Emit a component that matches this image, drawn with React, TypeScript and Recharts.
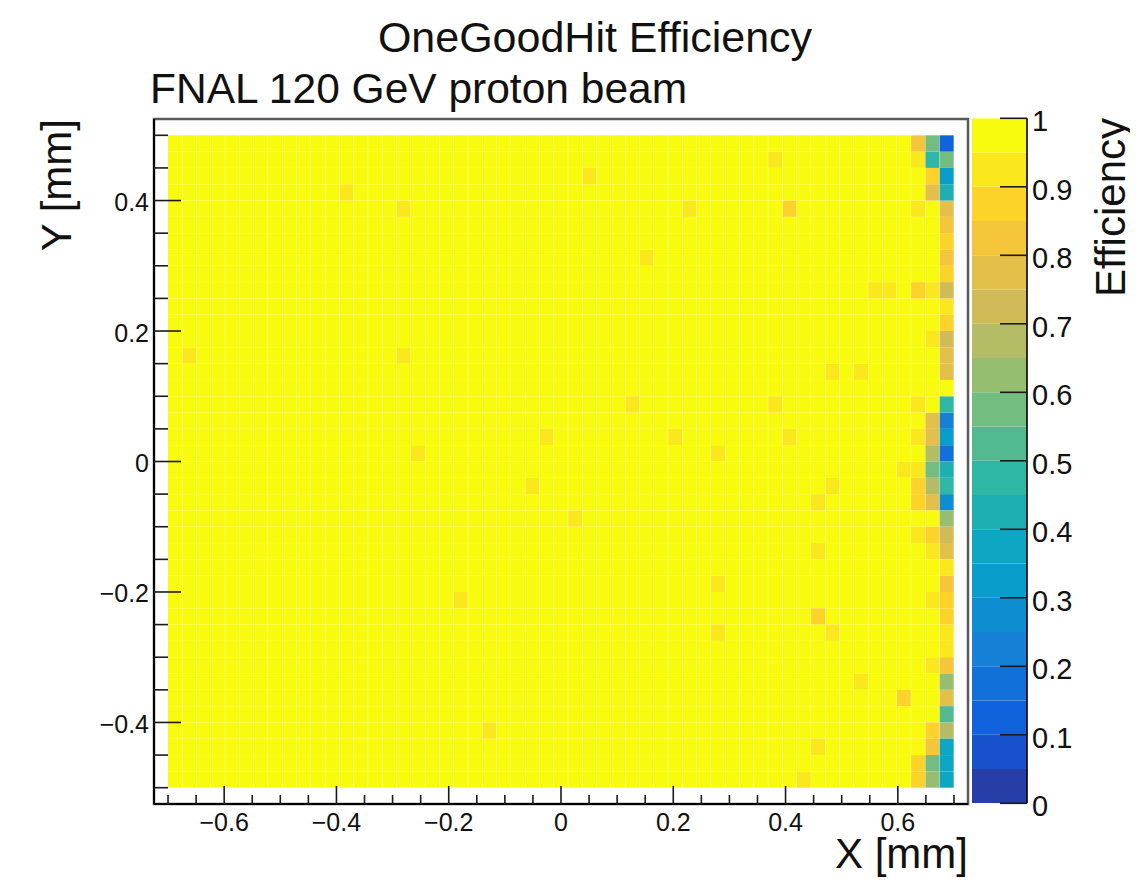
import React from 'react';
import { BarChart, Bar, Cell, XAxis, YAxis, ReferenceArea } from 'recharts';

// ---------- binning ----------
const X_LOW = -0.7;
const X_HIGH = 0.7;
const N_X = 55;
const Y_LOW = -0.5;
const Y_HIGH = 0.5;
const N_Y = 40;
const X_BIN = (X_HIGH - X_LOW) / N_X;
const Y_BIN = (Y_HIGH - Y_LOW) / N_Y;
const xBinCenters = Array.from({ length: N_X }, (_, i) => X_LOW + X_BIN * (i + 0.5));
const yBinLowEdges = Array.from({ length: N_Y }, (_, j) => +(Y_LOW + Y_BIN * j).toFixed(4));

// ---------- axis ticks ----------
const xTicks = [-0.7, -0.65, -0.6, -0.55, -0.5, -0.45, -0.4, -0.35, -0.3, -0.25, -0.2, -0.15, -0.1, -0.05, 0,
  0.05, 0.1, 0.15, 0.2, 0.25, 0.3, 0.35, 0.4, 0.45, 0.5, 0.55, 0.6, 0.65, 0.7];
const xLabelTicks = [-0.6, -0.4, -0.2, 0, 0.2, 0.4, 0.6];
const yTicks = [-0.5, -0.45, -0.4, -0.35, -0.3, -0.25, -0.2, -0.15, -0.1, -0.05, 0,
  0.05, 0.1, 0.15, 0.2, 0.25, 0.3, 0.35, 0.4, 0.45, 0.5];
const yLabelTicks = [-0.4, -0.2, 0, 0.2, 0.4];
const zTicks = [0, 0.1, 0.2, 0.3, 0.4, 0.5, 0.6, 0.7, 0.8, 0.9, 1];
const contourLevels = [0, 0.05, 0.1, 0.15, 0.2, 0.25, 0.3, 0.35, 0.4, 0.45, 0.5,
  0.55, 0.6, 0.65, 0.7, 0.75, 0.8, 0.85, 0.9, 0.95, 1];

// ---------- efficiency values ----------
const FULL_EFFICIENCY = 0.99; // all bright-yellow bins
// last column (ix = 54), rows bottom (iy=0) to top (iy=39)
const lastColumnEff = [0.37, 0.37, 0.37, 0.67, 0.52, 0.77, 0.62, 0.82, 0.92, 0.92,
  0.87, 0.87, 0.82, 0.93, 0.77, 0.74, 0.62, 0.27, 0.47, 0.42,
  0.17, 0.32, 0.22, 0.47, 0.96, 0.79, 0.76, 0.72, 0.87, 0.92,
  0.74, 0.86, 0.83, 0.87, 0.82, 0.78, 0.42, 0.32, 0.57, 0.12];
// other bins below full efficiency: [ix, iy, efficiency]
const lowEffBins: [number, number, number][] = [
  [53, 0, 0.62], [53, 1, 0.57], [53, 2, 0.82], [53, 3, 0.87], [53, 7, 0.93], [53, 11, 0.93],
  [53, 14, 0.93], [53, 15, 0.87], [53, 17, 0.77], [53, 18, 0.66], [53, 19, 0.57], [53, 20, 0.67],
  [53, 21, 0.77], [53, 22, 0.77], [53, 27, 0.93], [53, 30, 0.93], [53, 36, 0.77], [53, 37, 0.86],
  [53, 38, 0.48], [53, 39, 0.57],
  [52, 0, 0.87], [52, 1, 0.87], [52, 15, 0.93], [52, 17, 0.87], [52, 18, 0.87], [52, 19, 0.93],
  [52, 21, 0.93], [52, 23, 0.93], [52, 30, 0.87], [52, 35, 0.93], [52, 38, 0.93], [52, 39, 0.82],
  [51, 5, 0.87], [51, 19, 0.93], [50, 30, 0.93], [49, 30, 0.93],
  [12, 36, 0.93], [16, 35, 0.93], [42, 38, 0.93], [29, 37, 0.93], [36, 35, 0.93], [43, 35, 0.85],
  [33, 32, 0.93], [1, 26, 0.93], [16, 26, 0.93], [46, 25, 0.93], [48, 25, 0.93], [32, 23, 0.93],
  [42, 23, 0.93], [17, 20, 0.93], [26, 21, 0.93], [35, 21, 0.93], [38, 20, 0.93], [43, 21, 0.93],
  [25, 18, 0.93], [46, 18, 0.93], [45, 17, 0.93], [28, 16, 0.93], [45, 14, 0.93], [38, 12, 0.93],
  [20, 11, 0.93], [45, 10, 0.85], [38, 9, 0.93], [46, 9, 0.93], [48, 6, 0.93], [22, 3, 0.93],
  [45, 2, 0.93], [44, 0, 0.93],
];

// ---------- palette (ROOT kBird) ----------
const birdStops = [0, 0.125, 0.25, 0.375, 0.5, 0.625, 0.75, 0.875, 1];
const birdR = [0.2082, 0.0592, 0.0780, 0.0232, 0.1802, 0.5301, 0.8186, 0.9956, 0.9764];
const birdG = [0.1664, 0.3599, 0.5041, 0.6419, 0.7178, 0.7492, 0.7328, 0.7862, 0.9832];
const birdB = [0.5293, 0.8684, 0.8385, 0.7914, 0.6425, 0.4662, 0.3499, 0.1968, 0.0539];
function bird(f: number) {
  let k = 0;
  while (k < birdStops.length - 2 && f > birdStops[k + 1]) k++;
  const t = (f - birdStops[k]) / (birdStops[k + 1] - birdStops[k]);
  const c = (a: number[]) => Math.round(255 * (a[k] + t * (a[k + 1] - a[k])));
  return `rgb(${c(birdR)},${c(birdG)},${c(birdB)})`;
}
const nBands = contourLevels.length - 1;
const bandColors = Array.from({ length: nBands }, (_, i) => bird(Math.min(1, Math.floor(((i + 0.99) * 255) / nBands) / 254)));
function effColor(e: number) {
  let i = 0;
  while (i < nBands - 1 && e >= contourLevels[i + 1] - 1e-9) i++;
  return bandColors[i];
}

// ---------- build chart tables ----------
const effGrid = yBinLowEdges.map(() => xBinCenters.map(() => FULL_EFFICIENCY));
lastColumnEff.forEach((e, iy) => { effGrid[iy][N_X - 1] = e; });
lowEffBins.forEach(([ix, iy, e]) => { effGrid[iy][ix] = e; });

const heatData = xBinCenters.map((x) => {
  const d: Record<string, number> = { x };
  yBinLowEdges.forEach((y0, j) => { d['r' + j] = y0 >= 0 ? Y_BIN : -Y_BIN; });
  return d;
});
const upperRows = yBinLowEdges.map((_, j) => j).filter((j) => yBinLowEdges[j] >= 0);
const lowerRows = yBinLowEdges.map((_, j) => j).filter((j) => yBinLowEdges[j] < 0).reverse();
const rowOrder = [...upperRows, ...lowerRows];

const paletteData = [
  contourLevels.slice(0, -1).reduce((acc: Record<string, any>, l, i) => {
    acc['z' + i] = +(contourLevels[i + 1] - l).toFixed(4);
    return acc;
  }, { name: 'palette' }),
];

// ---------- rendering helpers ----------
const FONT = '"Liberation Sans", Arial, Helvetica, sans-serif';
const near = (arr: number[], v: number) => arr.some((t) => Math.abs(t - v) < 1e-6);
const fmt = (v: number) => (Math.abs(v) < 1e-9 ? '0' : (v < 0 ? '\u2212' : '') + String(+Math.abs(v).toFixed(2)));

const XTick = (props: any) => {
  const { x, y, payload } = props;
  const major = near(xLabelTicks, payload.value);
  return (
    <g>
      <line x1={x} x2={x} y1={y} y2={y - (major ? 18 : 9)} stroke="#1a1a1a" strokeWidth={1.6} />
      {major && (
        <text x={x} y={y + 26.5} textAnchor="middle" fontSize={25} fontFamily={FONT} fill="#111">
          {fmt(payload.value)}
        </text>
      )}
    </g>
  );
};

const YTick = (props: any) => {
  const { x, y, payload } = props;
  const major = near(yLabelTicks, payload.value);
  return (
    <g>
      <line x1={x} x2={x + (major ? 27 : 14)} y1={y} y2={y} stroke="#1a1a1a" strokeWidth={1.6} />
      {major && (
        <text x={x - 5} y={y + 10.5} textAnchor="end" fontSize={25} fontFamily={FONT} fill="#111">
          {fmt(payload.value)}
        </text>
      )}
    </g>
  );
};

const ZTick = (props: any) => {
  const { x, y, payload } = props;
  return (
    <g>
      <line x1={x} x2={x - 27} y1={y} y2={y} stroke="#1a1a1a" strokeWidth={1.6} />
      <text x={x + 5} y={y + 13} textAnchor="start" fontSize={29} fontFamily={FONT} fill="#111">
        {fmt(payload.value)}
      </text>
    </g>
  );
};

export default function App() {
  return (
    <div style={{ position: 'relative', width: 1130, height: 881, background: '#fff', fontFamily: FONT }}>
      <div style={{ position: 'absolute', left: 0, top: 0 }}>
        <BarChart
          width={1130}
          height={881}
          data={heatData}
          margin={{ top: 111, right: 170, bottom: 35, left: 0 }}
          barCategoryGap={0}
          barGap={0}
          stackOffset="sign"
        >
          {rowOrder.map((j) => (
            <Bar key={j} dataKey={'r' + j} stackId="h" isAnimationActive={false} legendType="none">
              {xBinCenters.map((_, i) => (
                <Cell key={i} fill={effColor(effGrid[j][i])} />
              ))}
            </Bar>
          ))}
          <ReferenceArea x1={-0.725} x2={0.725} y1={-0.525} y2={0.525} fill="none" fillOpacity={0}
            stroke="#5a5a5a" strokeWidth={2.5} ifOverflow="visible" />
          <XAxis dataKey="x" type="number" domain={[-0.725, 0.725]} allowDataOverflow ticks={xTicks}
            interval={0} tickSize={0} tickMargin={0} tickLine={false} height={50}
            axisLine={{ stroke: '#000', strokeWidth: 2 }} tick={(p: any) => <XTick {...p} />} />
          <YAxis type="number" domain={[-0.525, 0.525]} allowDataOverflow ticks={yTicks}
            interval={0} tickSize={0} tickMargin={0} tickLine={false} width={146}
            axisLine={{ stroke: '#000', strokeWidth: 2 }} tick={(p: any) => <YTick {...p} />} />
        </BarChart>
      </div>
      <div style={{ position: 'absolute', left: 964, top: 0 }}>
        <BarChart
          width={166}
          height={881}
          data={paletteData}
          margin={{ top: 110.3, right: 0, bottom: 85.7, left: 0 }}
          barCategoryGap={0}
          barGap={0}
        >
          {contourLevels.slice(0, -1).map((_, i) => (
            <Bar key={i} dataKey={'z' + i} stackId="p" fill={bandColors[i]} isAnimationActive={false} legendType="none" />
          ))}
          <XAxis dataKey="name" hide />
          <YAxis orientation="right" type="number" domain={[0, 1]} allowDataOverflow ticks={zTicks}
            interval={0} tickSize={0} tickMargin={0} tickLine={false} width={111}
            axisLine={{ stroke: '#000', strokeWidth: 1.6 }} tick={(p: any) => <ZTick {...p} />} />
        </BarChart>
      </div>
      <svg width={1130} height={881} style={{ position: 'absolute', left: 0, top: 0, pointerEvents: 'none' }}>
        <text x={587} y={44} textAnchor="middle" fontSize={43} fontFamily={FONT} fill="#111">OneGoodHit Efficiency</text>
        <text x={142} y={95} textAnchor="start" fontSize={42.5} fontFamily={FONT} fill="#111">FNAL 120 GeV proton beam</text>
        <text x={960} y={860} textAnchor="end" fontSize={42} fontFamily={FONT} fill="#111">X [mm]</text>
        <text transform="translate(63,111) rotate(-90)" textAnchor="end" fontSize={42} fontFamily={FONT} fill="#111">Y [mm]</text>
        <text transform="translate(1117,110) rotate(-90)" textAnchor="end" fontSize={42} fontFamily={FONT} fill="#111">Efficiency</text>
      </svg>
    </div>
  );
}
